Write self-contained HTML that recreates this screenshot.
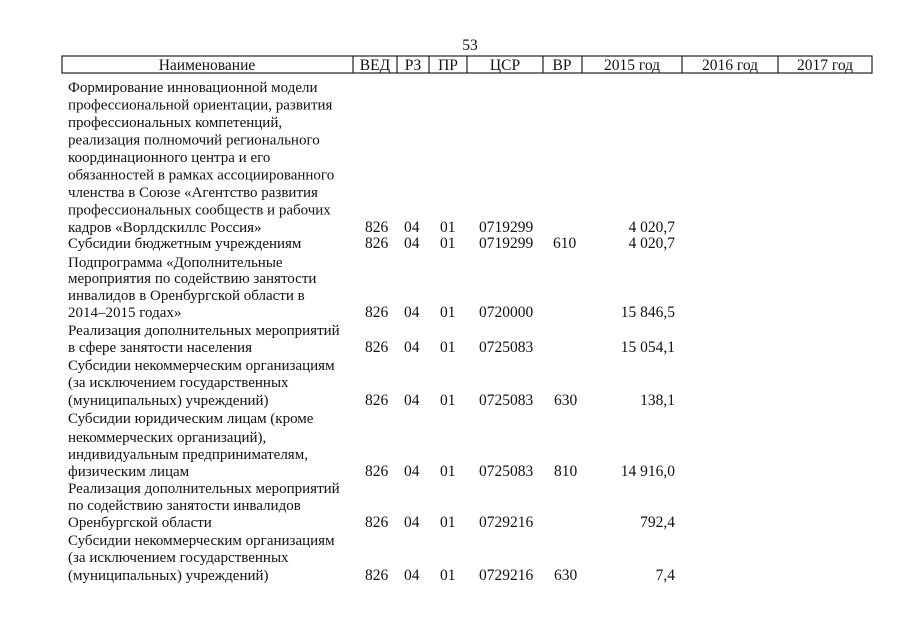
<!DOCTYPE html>
<html><head><meta charset="utf-8"><style>
html,body{margin:0;padding:0;background:#fff;}
svg{display:block;}
text{font-family:"Liberation Serif",serif;font-size:15.5px;fill:#111;}
.d text{font-size:15px;}
</style></head><body>
<svg width="905" height="640" viewBox="0 0 905 640">
<text x="470" y="50" text-anchor="middle" font-size="13">53</text>
<g stroke="#222" stroke-width="1.2" fill="none">
<rect x="62" y="56" width="810" height="17"/>
<line x1="353" y1="56" x2="353" y2="73"/><line x1="397" y1="56" x2="397" y2="73"/>
<line x1="429" y1="56" x2="429" y2="73"/><line x1="467" y1="56" x2="467" y2="73"/>
<line x1="543" y1="56" x2="543" y2="73"/><line x1="582" y1="56" x2="582" y2="73"/>
<line x1="682" y1="56" x2="682" y2="73"/><line x1="778" y1="56" x2="778" y2="73"/>
</g>
<g text-anchor="middle">
<text x="207" y="70">Наименование</text><text x="375" y="70">ВЕД</text><text x="413" y="70">РЗ</text>
<text x="448" y="70">ПР</text><text x="505" y="70">ЦСР</text><text x="562" y="70">ВР</text>
<text x="632" y="70">2015 год</text><text x="730" y="70">2016 год</text><text x="825" y="70">2017 год</text>
</g>
<g class="d">
<text x="68" y="92">Формирование инновационной модели</text>
<text x="68" y="109.5">профессиональной ориентации, развития</text>
<text x="68" y="127">профессиональных компетенций,</text>
<text x="68" y="144.5">реализация полномочий регионального</text>
<text x="68" y="162">координационного центра и его</text>
<text x="68" y="179.5">обязанностей в рамках ассоциированного</text>
<text x="68" y="197">членства в Союзе «Агентство развития</text>
<text x="68" y="214.5">профессиональных сообществ и рабочих</text>
<text x="68" y="232">кадров «Ворлдскиллс Россия»</text>
<text x="68" y="248">Субсидии бюджетным учреждениям</text>
<text x="68" y="267">Подпрограмма «Дополнительные</text>
<text x="68" y="283">мероприятия по содействию занятости</text>
<text x="68" y="300">инвалидов в Оренбургской области в</text>
<text x="68" y="317">2014–2015 годах»</text>
<text x="68" y="335">Реализация дополнительных мероприятий</text>
<text x="68" y="352">в сфере занятости населения</text>
<text x="68" y="370">Субсидии некоммерческим организациям</text>
<text x="68" y="387">(за исключением государственных</text>
<text x="68" y="405">(муниципальных) учреждений)</text>
<text x="68" y="423">Субсидии юридическим лицам (кроме</text>
<text x="68" y="442">некоммерческих организаций),</text>
<text x="68" y="459">индивидуальным предпринимателям,</text>
<text x="68" y="476">физическим лицам</text>
<text x="68" y="493">Реализация дополнительных мероприятий</text>
<text x="68" y="510">по содействию занятости инвалидов</text>
<text x="68" y="527">Оренбургской области</text>
<text x="68" y="545">Субсидии некоммерческим организациям</text>
<text x="68" y="562">(за исключением государственных</text>
<text x="68" y="580">(муниципальных) учреждений)</text>
</g>
<g>
<text x="365" y="232">826</text><text x="404" y="232">04</text><text x="440" y="232">01</text><text x="479" y="232">0719299</text><text x="675" y="232" text-anchor="end">4 020,7</text>
<text x="365" y="248">826</text><text x="404" y="248">04</text><text x="440" y="248">01</text><text x="479" y="248">0719299</text><text x="553" y="248">610</text><text x="675" y="248" text-anchor="end">4 020,7</text>
<text x="365" y="317">826</text><text x="404" y="317">04</text><text x="440" y="317">01</text><text x="479" y="317">0720000</text><text x="675" y="317" text-anchor="end">15 846,5</text>
<text x="365" y="352">826</text><text x="404" y="352">04</text><text x="440" y="352">01</text><text x="479" y="352">0725083</text><text x="675" y="352" text-anchor="end">15 054,1</text>
<text x="365" y="405">826</text><text x="404" y="405">04</text><text x="440" y="405">01</text><text x="479" y="405">0725083</text><text x="554" y="405">630</text><text x="675" y="405" text-anchor="end">138,1</text>
<text x="365" y="476">826</text><text x="404" y="476">04</text><text x="440" y="476">01</text><text x="479" y="476">0725083</text><text x="554" y="476">810</text><text x="675" y="476" text-anchor="end">14 916,0</text>
<text x="365" y="527">826</text><text x="404" y="527">04</text><text x="440" y="527">01</text><text x="479" y="527">0729216</text><text x="675" y="527" text-anchor="end">792,4</text>
<text x="365" y="580">826</text><text x="404" y="580">04</text><text x="440" y="580">01</text><text x="479" y="580">0729216</text><text x="554" y="580">630</text><text x="675" y="580" text-anchor="end">7,4</text>
</g>
</svg>
</body></html>
